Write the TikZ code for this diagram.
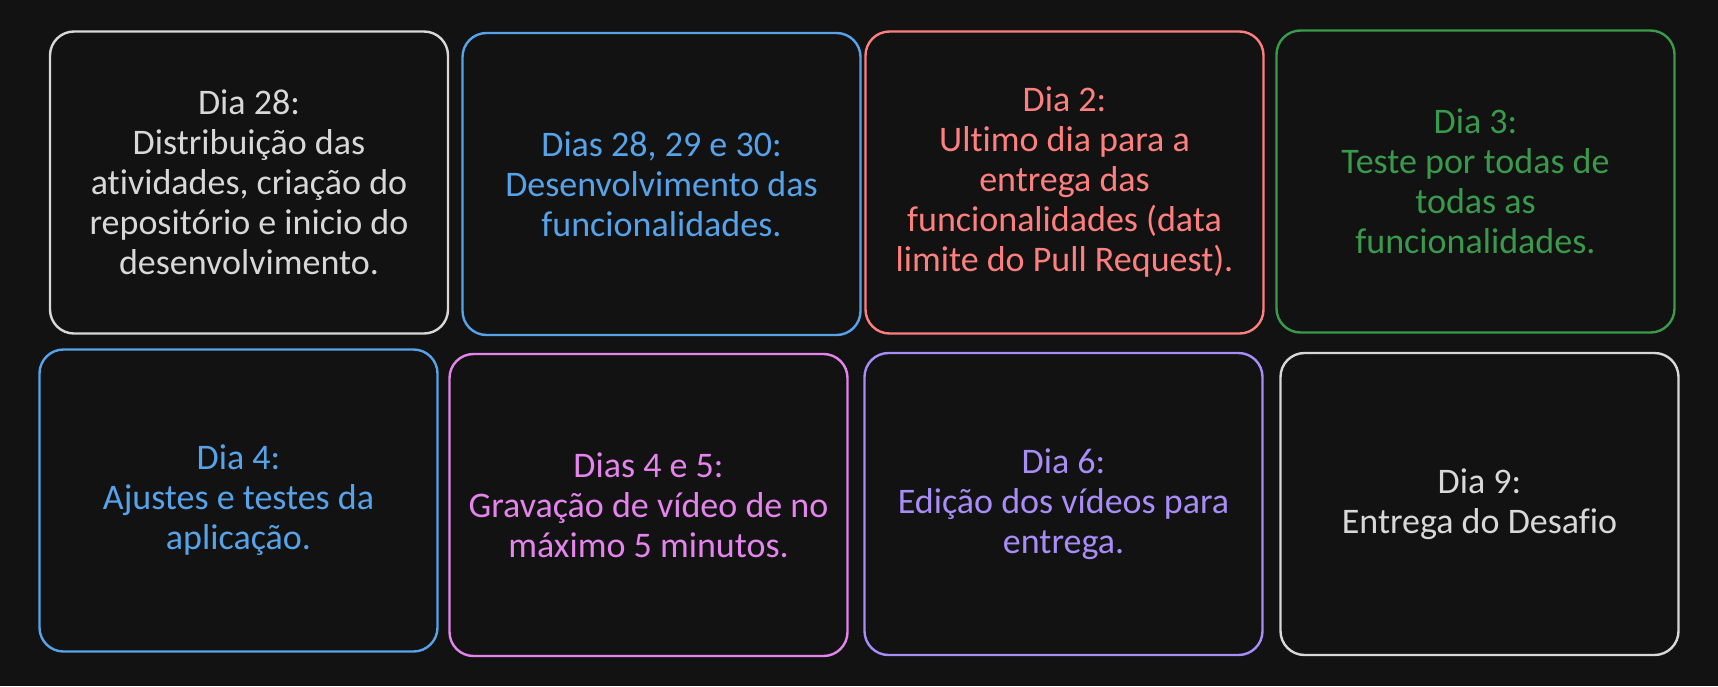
\documentclass[tikz,border=0pt]{standalone}
\usepackage{fontspec}
\setmainfont{Carlito}[Ligatures=NoCommon]
\definecolor{bgDark}{HTML}{121212}
\definecolor{cardWhite}{HTML}{D8D8D8}
\definecolor{cardBlue}{HTML}{56A3EA}
\definecolor{cardRed}{HTML}{FF7F7F}
\definecolor{cardGreen}{HTML}{3A9A4C}
\definecolor{cardPink}{HTML}{E484EC}
\definecolor{cardPurple}{HTML}{A88CF8}
\tikzset{
	cardbox/.style={rectangle, rounded corners=12pt, line width=1.2pt, fill=bgDark, minimum width=199pt, minimum height=151pt, align=center, font=\fontsize{18}{20}\selectfont},
	whitecard/.style={cardbox, draw=cardWhite, text=cardWhite},
	bluecard/.style={cardbox, draw=cardBlue, text=cardBlue},
	redcard/.style={cardbox, draw=cardRed, text=cardRed},
	greencard/.style={cardbox, draw=cardGreen, text=cardGreen},
	pinkcard/.style={cardbox, draw=cardPink, text=cardPink},
	purplecard/.style={cardbox, draw=cardPurple, text=cardPurple}
}
\begin{document}
\begin{tikzpicture}[x=0.5pt, y=-0.5pt]
	\fill[bgDark] (0,0) rectangle (1718,686);
	\useasboundingbox (0,0) rectangle (1718,686);

	% first row
	\node[whitecard](day28Box) at (249,182.5){Dia 28:\\Distribuição das\\atividades, criação do\\repositório e inicio do\\desenvolvimento.};
	\node[bluecard](days28to30Box) at (661.5,184){Dias 28, 29 e 30:\\Desenvolvimento das\\funcionalidades.};
	\node[redcard](day2Box) at (1064.5,182.5){Dia 2:\\Ultimo dia para a\\entrega das\\funcionalidades (data\\limite do Pull Request).};
	\node[greencard](day3Box) at (1475.5,181.5){Dia 3:\\Teste por todas de\\todas as\\funcionalidades.};

	% second row
	\node[bluecard](day4Box) at (238.5,500.5){Dia 4:\\Ajustes e testes da\\aplicação.};
	\node[pinkcard](days4to5Box) at (648.5,505){Dias 4 e 5:\\Gravação de vídeo de no\\máximo 5 minutos.};
	\node[purplecard](day6Box) at (1063.5,504){Dia 6:\\Edição dos vídeos para\\entrega.};
	\node[whitecard](day9Box) at (1479.5,504){Dia 9:\\Entrega do Desafio};
\end{tikzpicture}
\end{document}
